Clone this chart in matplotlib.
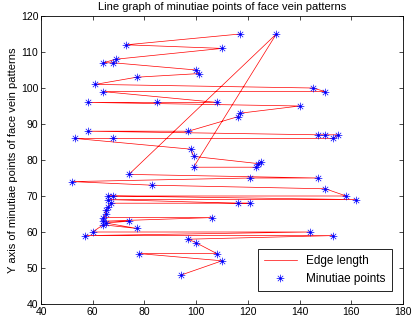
import matplotlib
matplotlib.use("Agg")
import matplotlib.pyplot as plt
from matplotlib.path import Path

plt.rcParams['font.family'] = ['Liberation Sans', 'DejaVu Sans']

# Minutiae points in drawing order (edges connect consecutive points)
x_vals = [117, 73, 110, 69, 64, 68, 100, 101, 77, 61, 145, 150, 64, 108, 85, 58,
          140, 117, 116, 97, 58, 147, 150, 155, 153, 68, 53, 98, 99, 124, 125, 123,
          99, 131, 74, 147, 121, 52, 83, 150, 158, 66, 68, 162, 66, 116, 121, 67,
          66, 65, 65, 64, 106, 64, 74, 65, 77, 64, 60, 144, 57, 153, 97, 100, 108,
          78, 110, 94]
y_vals = [115, 112, 111, 108, 107, 107, 105, 104, 103, 101, 100, 99, 99, 96, 96, 96,
          95, 93, 92, 88, 88, 87, 87, 87, 86, 86, 86, 83, 81, 79, 79.5, 78,
          78, 115, 76, 75, 75, 74, 73, 72, 70, 70, 70, 69, 69, 68, 68, 68,
          67, 66, 65, 64, 64, 63, 63, 62.5, 61, 62, 60, 60, 59, 59, 58, 57, 54,
          54, 52, 48]

title = "Line graph of minutiae points of face vein patterns"
ylabel = "Y axis of minutiae points of face vein patterns"
legend_labels = ["Edge length", "Minutiae points"]
xticks = [40, 60, 80, 100, 120, 140, 160, 180]
yticks = [40, 50, 60, 70, 80, 90, 100, 110, 120]

# asterisk marker (MATLAB style '*')
verts = [(-1, 0), (1, 0), (0, -1), (0, 1), (-.7, -.7), (.7, .7), (-.7, .7), (.7, -.7)]
codes = [Path.MOVETO, Path.LINETO] * 4
star = Path(verts, codes)

fig = plt.figure(figsize=(4.12, 3.18), dpi=100)
ax = fig.add_axes([41 / 412, 14 / 318, 362 / 412, 288 / 318])

ax.plot(x_vals, y_vals, color="red", linewidth=0.5, label=legend_labels[0])
ax.plot(x_vals, y_vals, linestyle="none", marker=star, markersize=5.5,
        markerfacecolor="none", markeredgecolor="blue", markeredgewidth=0.5,
        label=legend_labels[1])

ax.set_xlim(40, 180)
ax.set_ylim(40, 120)
ax.set_xticks(xticks)
ax.set_yticks(yticks)
ax.tick_params(direction="in", top=True, right=True, length=3, width=0.5,
               labelsize=7.5, pad=2)
for s in ax.spines.values():
    s.set_linewidth(0.6)
ax.set_title(title, fontsize=8, pad=4)
ax.set_ylabel(ylabel, fontsize=8, labelpad=2)

leg = ax.legend(loc="lower right", fontsize=8.5, fancybox=False, framealpha=1,
                edgecolor="black", borderpad=0.5, handlelength=2.8,
                bbox_to_anchor=(0.985, 0.025))
leg.get_frame().set_linewidth(0.6)

fig.savefig("out.png", dpi=100)
